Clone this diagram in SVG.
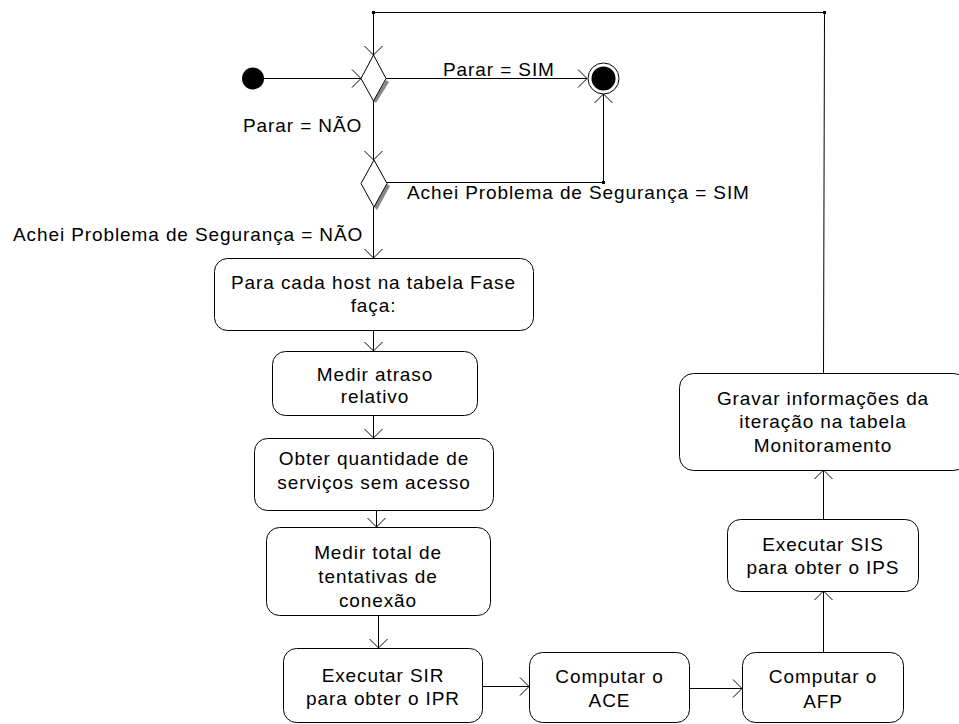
<svg xmlns="http://www.w3.org/2000/svg" width="959" height="724" viewBox="0 0 959 724">
<style>
text{font-family:"Liberation Sans",Arial,sans-serif;font-size:19px;letter-spacing:0.9px;fill:#000}
.c{text-anchor:middle}
.box{fill:#fff;stroke:#000;stroke-width:1}
.ln{fill:none;stroke:#000;stroke-width:1}
</style>
<defs>
<marker id="arr" markerUnits="userSpaceOnUse" viewBox="-10 -10 20 20" markerWidth="20" markerHeight="20" refX="0" refY="0" orient="auto" overflow="visible">
<path d="M-9,-9 L0,0 L-9,9" fill="none" stroke="#000" stroke-width="1"/>
</marker>
</defs>
<rect width="959" height="724" fill="#fff"/>
<g id="connectors">
<line class="ln" x1="264" y1="78.5" x2="361" y2="78.5" marker-end="url(#arr)"/>
<line class="ln" x1="386" y1="78.5" x2="587" y2="78.5" marker-end="url(#arr)"/>
<line class="ln" x1="373.5" y1="101" x2="373.5" y2="160" marker-end="url(#arr)"/>
<polyline class="ln" points="387,182.5 603.5,182.5 603.5,94" marker-end="url(#arr)"/>
<line class="ln" x1="373.5" y1="207" x2="373.5" y2="258" marker-end="url(#arr)"/>
<line class="ln" x1="373.5" y1="330" x2="373.5" y2="351" marker-end="url(#arr)"/>
<line class="ln" x1="373.5" y1="415" x2="373.5" y2="438" marker-end="url(#arr)"/>
<line class="ln" x1="376.5" y1="510" x2="376.5" y2="527" marker-end="url(#arr)"/>
<line class="ln" x1="378.5" y1="615" x2="378.5" y2="648" marker-end="url(#arr)"/>
<line class="ln" x1="483" y1="686.5" x2="529" y2="686.5" marker-end="url(#arr)"/>
<line class="ln" x1="690" y1="688.5" x2="742" y2="688.5" marker-end="url(#arr)"/>
<line class="ln" x1="823.5" y1="652" x2="823.5" y2="591" marker-end="url(#arr)"/>
<line class="ln" x1="823.5" y1="519" x2="823.5" y2="470" marker-end="url(#arr)"/>
<polyline class="ln" points="823.5,373 824.5,12.5 373.5,12.5 373.5,55" marker-end="url(#arr)"/>
<rect x="372" y="11" width="3" height="3" fill="#000"/>
<rect x="823" y="11" width="3" height="3" fill="#000"/>
<rect x="602" y="181" width="3" height="3" fill="#000"/>
<text x="443" y="75.5">Parar = SIM</text>
<text x="243" y="132">Parar = NÃO</text>
<text x="13" y="241">Achei Problema de Segurança = NÃO</text>
<text x="407" y="199">Achei Problema de Segurança = SIM</text>
</g>
<g id="start">
<circle cx="253" cy="78.5" r="11" fill="#000"/>
</g>
<g id="final">
<circle cx="603.5" cy="78.5" r="15.5" fill="#fff" stroke="#000" stroke-width="1"/>
<circle cx="603.5" cy="78.5" r="12" fill="#000"/>
</g>
<g id="decision1">
<polygon points="386,80 389,82 376,103 373.5,101" fill="#888"/>
<polygon class="box" points="373.5,55 386,78.5 373.5,101 361,78.5"/>
</g>
<g id="decision2">
<polygon points="387,184 390,186 377,210 374,207" fill="#888"/>
<polygon class="box" points="374,160 387,183.5 374,207 361,183.5"/>
</g>
<g id="box1">
<rect class="box" x="214.5" y="258.5" width="319" height="72" rx="13"/>
<text class="c" x="373.5" y="289">Para cada host na tabela Fase</text>
<text class="c" x="373.5" y="312">faça:</text>
</g>
<g id="box2">
<rect class="box" x="272.5" y="351.5" width="205" height="64" rx="13"/>
<text class="c" x="375" y="381">Medir atraso</text>
<text class="c" x="375" y="403">relativo</text>
</g>
<g id="box3">
<rect class="box" x="254.5" y="438.5" width="239" height="72" rx="13"/>
<text class="c" x="374" y="465">Obter quantidade de</text>
<text class="c" x="374" y="489">serviços sem acesso</text>
</g>
<g id="box4">
<rect class="box" x="266.5" y="527.5" width="224" height="88" rx="13"/>
<text class="c" x="378" y="559">Medir total de</text>
<text class="c" x="378" y="583">tentativas de</text>
<text class="c" x="378" y="607">conexão</text>
</g>
<g id="box5">
<rect class="box" x="283.5" y="648.5" width="199" height="74" rx="13"/>
<text class="c" x="383" y="682">Executar SIR</text>
<text class="c" x="383" y="705">para obter o IPR</text>
</g>
<g id="box6">
<rect class="box" x="529.5" y="652.5" width="160" height="70" rx="13"/>
<text class="c" x="609.5" y="683">Computar o</text>
<text class="c" x="609.5" y="707">ACE</text>
</g>
<g id="box7">
<rect class="box" x="742.5" y="652.5" width="161" height="70" rx="13"/>
<text class="c" x="823" y="683">Computar o</text>
<text class="c" x="823" y="708">AFP</text>
</g>
<g id="box8">
<rect class="box" x="727.5" y="519.5" width="191" height="72" rx="13"/>
<text class="c" x="823" y="551">Executar SIS</text>
<text class="c" x="823" y="574">para obter o IPS</text>
</g>
<g id="box9">
<rect class="box" x="679.5" y="373.5" width="288" height="97" rx="14"/>
<text class="c" x="823" y="405">Gravar informações da</text>
<text class="c" x="823" y="428">iteração na tabela</text>
<text class="c" x="823" y="452">Monitoramento</text>
</g>
</svg>
